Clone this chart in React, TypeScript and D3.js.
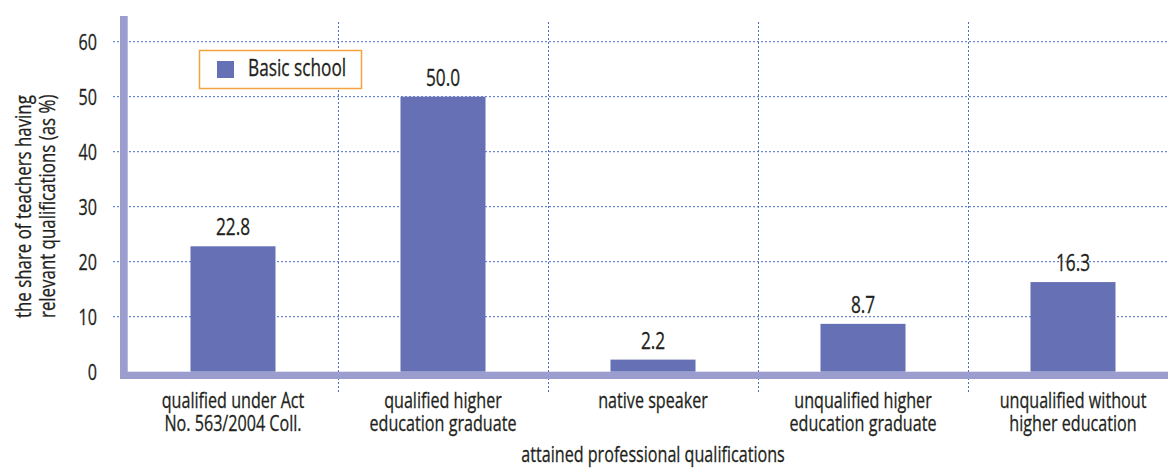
import React from "react";
import * as d3 from "d3";

const categories: string[][] = [
  ["qualified under Act", "No. 563/2004 Coll."],
  ["qualified higher", "education graduate"],
  ["native speaker"],
  ["unqualified higher", "education graduate"],
  ["unqualified without", "higher education"],
];
const values: number[] = [22.8, 50.0, 2.2, 8.7, 16.3];
const yTicks: number[] = [0, 10, 20, 30, 40, 50, 60];
const seriesName = "Basic school";
const yTitle = ["the share of teachers having", "relevant qualifications (as %)"];
const xTitle = "attained professional qualifications";

const W = 1168;
const H = 468;
const FONT = "'Open Sans', 'Noto Sans', sans-serif";
const S = 0.75; // horizontal condensation
const TEXT = "#231f20";
const BAR = "#6670b5";
const AXIS = "#9b9dcf";
const GRID = "#4a6cc4";

type TProps = { x: number; y: number; size: number; anchor?: string; rotate?: boolean; lines?: string[]; lh?: number; children?: React.ReactNode };
function T({ x, y, size, anchor = "middle", rotate = false, lines, lh = 23, children }: TProps) {
  const tr = `translate(${x},${y})${rotate ? " rotate(-90)" : ""} scale(${S},1)`;
  return (
    <text transform={tr} textAnchor={anchor} fontSize={size} fill={TEXT} stroke={TEXT} strokeWidth={0.3}>
      {lines
        ? lines.map((l, i) => (
            <tspan key={i} x={0} dy={i === 0 ? 0 : lh}>
              {l}
            </tspan>
          ))
        : children}
    </text>
  );
}

export default function App() {
  const keys = categories.map((c) => c.join(" "));
  const x = d3.scaleBand<string>().domain(keys).range([128, 1178]).padding(0);
  const y = d3.scaleLinear().domain([0, 60]).range([371.7, 41.7]);
  const bw = x.bandwidth();
  const barW = bw * (85 / 210);

  return (
    <svg width={W} height={H} style={{ display: "block", position: "absolute", left: 0, top: 0 }} fontFamily={FONT}>
      <rect x={0} y={0} width={W} height={H} fill="#fff" />
      {/* horizontal grid */}
      {yTicks.filter((t) => t > 0).map((t) => (
        <line key={"h" + t} x1={113} x2={W} y1={y(t)} y2={y(t)} stroke={GRID} strokeWidth={1} strokeDasharray="2,2" />
      ))}
      {/* vertical grid at band boundaries */}
      {keys.slice(1).map((k) => (
        <line key={"v" + k} x1={Math.round(x(k)!) + 0.5} x2={Math.round(x(k)!) + 0.5} y1={22} y2={393} stroke={GRID} strokeWidth={1} strokeDasharray="2,2" />
      ))}
      {/* bars */}
      {values.map((v, i) => {
        const k = keys[i];
        const bx = x(k)! + (bw - barW) / 2;
        return <rect key={"b" + i} x={bx} y={y(v)} width={barW} height={y(0) - y(v)} fill={BAR} />;
      })}
      {/* axis bars */}
      <rect x={120} y={16} width={7.7} height={379 - 16} fill={AXIS} />
      <rect x={120} y={371.7} width={W - 120} height={7.3} fill={AXIS} />
      {/* value labels */}
      {values.map((v, i) => (
        <T key={"l" + i} x={x(keys[i])! + bw / 2} y={y(v) - 11} size={23}>
          {v.toFixed(1)}
        </T>
      ))}
      {/* y tick labels */}
      {yTicks.map((t) => (
        <T key={"t" + t} x={97} y={y(t) + 8} size={21.5} anchor="end">
          {t}
        </T>
      ))}
      {/* category labels */}
      {categories.map((c, i) => (
        <T key={"c" + i} x={x(keys[i])! + bw / 2} y={408} size={21.5} lines={c} lh={23} />
      ))}
      {/* x title */}
      <T x={653} y={461.5} size={21.5}>
        {xTitle}
      </T>
      {/* y title */}
      <T x={31} y={318} size={22.5} anchor="start" rotate lines={yTitle} lh={24} />
      {/* legend */}
      <rect x={199.5} y={50.5} width={162} height={38} fill="#fff" stroke="#f5a340" strokeWidth={1.5} />
      <rect x={217} y={61} width={17} height={17} fill={BAR} />
      <T x={248} y={76} size={23} anchor="start">
        {seriesName}
      </T>
    </svg>
  );
}
